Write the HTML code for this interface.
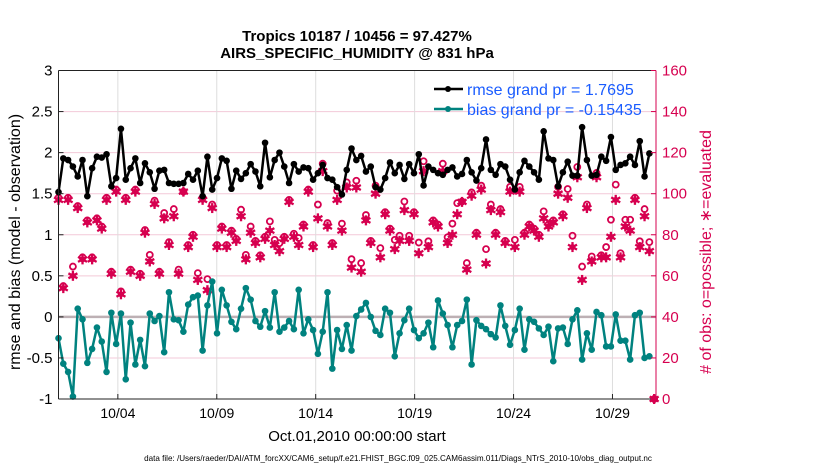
<!DOCTYPE html>
<html><head><meta charset="utf-8"><style>
body{margin:0;background:#fff;width:830px;height:470px;overflow:hidden}
svg{font-family:"Liberation Sans",sans-serif}
</style></head><body>
<svg id="chart" width="830" height="470">
<g id="grid"></g>
<g id="marks"></g>
<g id="axes"></g>
<text x="357" y="41" font-size="15" font-weight="bold" text-anchor="middle">Tropics 10187 / 10456 = 97.427%</text>
<text x="357" y="58" font-size="15" font-weight="bold" text-anchor="middle">AIRS_SPECIFIC_HUMIDITY @ 831 hPa</text>
<text transform="translate(20,242) rotate(-90)" font-size="16" text-anchor="middle">rmse and bias (model - observation)</text>
<text transform="translate(711,252) rotate(-90)" font-size="16" fill="#d6004f" text-anchor="middle"># of obs: o=possible; ∗=evaluated</text>
<text x="357" y="441" font-size="15" text-anchor="middle">Oct.01,2010 00:00:00 start</text>
<text x="398" y="461" font-size="8.1" text-anchor="middle">data file: /Users/raeder/DAI/ATM_forcXX/CAM6_setup/f.e21.FHIST_BGC.f09_025.CAM6assim.011/Diags_NTrS_2010-10/obs_diag_output.nc</text>
<g>
<g>
<line x1="434" y1="89" x2="463" y2="89" stroke="#000" stroke-width="2.5"/>
<circle cx="448" cy="89" r="3" fill="#000"/>
<text x="467" y="95" font-size="16" fill="#1a5cff">rmse grand pr = 1.7695</text></g>
<g>
<line x1="434" y1="109" x2="463" y2="109" stroke="#00827f" stroke-width="2.5"/>
<circle cx="448" cy="109" r="3" fill="#00827f"/>
<text x="467" y="115" font-size="16" fill="#1a5cff">bias grand pr = -0.15435</text></g>
</g>
</svg>
<script>
const rmse=[1.52,1.93,1.91,1.83,1.71,1.91,1.47,1.81,1.95,1.94,1.98,1.59,1.69,2.29,1.67,1.81,1.93,1.63,1.87,1.76,1.56,1.78,1.79,1.63,1.62,1.62,1.63,1.74,1.67,1.78,1.47,1.95,1.55,
1.69,1.93,1.90,1.56,1.78,1.68,1.75,1.86,1.77,1.59,2.12,1.70,1.91,2.00,1.83,1.63,1.86,1.77,1.82,1.81,1.67,1.75,1.85,1.69,1.67,1.58,1.49,1.79,2.05,1.91,1.96,
1.77,1.83,1.58,1.55,1.69,1.88,1.75,1.85,1.68,1.86,1.75,1.98,1.60,1.83,1.79,1.75,1.73,1.79,1.82,1.71,1.74,1.91,1.76,1.66,1.81,2.16,1.79,1.73,1.86,1.83,1.67,
1.55,1.76,1.90,1.83,1.76,1.67,2.26,1.93,1.91,1.59,1.76,1.89,1.72,1.72,2.31,1.91,1.72,1.73,1.95,1.90,2.19,1.79,1.85,1.87,1.95,1.85,2.14,1.71,1.99];
const bias=[-0.26,-0.57,-0.67,-0.97,0.10,-0.03,-0.56,-0.39,-0.13,-0.30,-0.67,0.05,-0.33,0.04,-0.76,-0.07,-0.58,-0.28,-0.60,0.04,-0.05,0.01,-0.43,0.30,-0.03,-0.04,-0.18,0.15,0.24,0.26,-0.41,0.14,0.43,
-0.2,0.33,0.14,-0.06,-0.15,0.10,0.35,0.21,-0.05,-0.12,0.07,-0.13,0.30,-0.18,-0.13,-0.05,-0.15,0.33,-0.20,-0.03,-0.16,-0.45,-0.18,0.30,-0.63,-0.16,-0.39,-0.10,-0.41,0.01,0.09,
0.17,0,-0.17,-0.22,0.10,0.05,-0.48,-0.20,-0.04,0.10,-0.16,-0.26,-0.20,-0.07,-0.37,0.20,0.04,-0.10,-0.37,-0.10,-0.05,0.21,-0.58,-0.04,-0.11,-0.15,-0.21,-0.25,0.14,-0.11,-0.34,
-0.16,0.10,-0.40,-0.03,-0.06,-0.14,-0.22,-0.12,-0.54,-0.14,-0.13,-0.33,-0.03,0.08,-0.52,-0.20,-0.40,0.06,0.02,-0.36,-0.36,0.03,-0.29,-0.29,-0.52,0.02,0.05,-0.50,-0.48];
const evaluated=[97,54,97,60,93,68,86,68,87,83,97,61,101,51,97,62,101,60,81,67,95,61,88,75,89,61,101,74,79,58,97,53,93,
74,83,74,81,77,89,68,81,76,69,78,82,75,72,78,96,79,75,84,101,74,88,111,84,75,97,82,103,64,103,62,
87,76,100,69,90,82,73,77,92,77,90,71,111,74,86,84,111,76,80,90,96,63,99,80,102,66,92,80,91,76,101,
74,101,80,84,82,79,88,84,86,100,89,98,74,108,58,93,67,108,69,69,79,97,69,84,82,97,74,89,72,0];
const possible=[98,55,98,64.5,94,69,87,69,88,84,98,62,102,52.4,98,63,102,61,82.3,70.2,96.6,62,90.6,76.4,92.5,63,101,75,80,61.3,98,58.4,94.7,
75,84,75,82,78,92.2,70.2,84,77,70,79,86.5,77.5,75.9,79,97,80.5,78.4,85,102,75,94.7,114.6,85.7,76,101.5,85.4,105.5,68.1,106.3,66.2,
89.6,77,103.9,73.5,91,83,77.5,79.5,96.2,79.5,91,76.2,115.8,76.8,87,85,114.6,78.8,85.4,95.4,96.2,66.2,100.6,81,103.9,73,94.7,81,92.5,77,103.3,
77.5,103.3,81,85,83,80,91.4,85,87,103.3,90,102.3,79.5,113,64.5,94.7,69.4,110.1,70,74,87.3,104.4,71,87.3,87.3,98,76.8,92.5,76.4,0];
const tickDays=[3,8,13,18,23,28];
const tickLabels=["10/04","10/09","10/14","10/19","10/24","10/29"];
const leftTicks=[-1,-0.5,0,0.5,1,1.5,2,2.5,3];
const rightTicks=[0,20,40,60,80,100,120,140,160];
const dtDays=0.2428;

const NS="http://www.w3.org/2000/svg";
const X0=58.5,X1=656,Y0=399,Y1=70.5,XMAX=30.2;
const xs=d=>X0+(X1-X0)*d/XMAX;
const yl=v=>Y0-(Y0-Y1)*(v+1)/4;
const yr=v=>Y0-(Y0-Y1)*v/160;
function mk(tag,attrs,parent){const e=document.createElementNS(NS,tag);for(const k in attrs)e.setAttribute(k,attrs[k]);parent.appendChild(e);return e;}
const grid=document.getElementById('grid'),marks=document.getElementById('marks'),axes=document.getElementById('axes');

rightTicks.forEach(t=>{const y=yr(t);const g=mk('line',{x1:X0,x2:X1,y1:y,y2:y,stroke:'#f3c9d8','stroke-width':1},grid);

});
tickDays.forEach((d,i)=>{const x=xs(d);const g=mk('line',{x1:x,x2:x,y1:Y1,y2:Y0,stroke:'#ddd','stroke-width':1},grid);


mk('line',{x1:x,x2:x,y1:Y0,y2:Y0-5,stroke:'#222'},axes);
const t=mk('text',{x:x,y:418,'font-size':14,'text-anchor':'middle'},axes);t.textContent=tickLabels[i];

});
const zl=mk('line',{x1:X0,x2:X1,y1:yl(0),y2:yl(0),stroke:'#bdb0b4','stroke-width':2.5},grid);



function star(x,y,p){const s=mk('g',{stroke:'#d6004f','stroke-width':2.3},p);
[[0,5],[4.5,2.5],[4.5,-2.5]].forEach(([a,b])=>mk('line',{x1:x-a,y1:y-b,x2:x+a,y2:y+b},s));
mk('circle',{cx:x,cy:y,r:3,fill:'#d6004f',stroke:'none'},s);return s;}
const mg=mk('g',{},marks);


possible.forEach((v,i)=>{const c=mk('circle',{cx:xs(i*dtDays),cy:yr(v),r:3,fill:'none',stroke:'#d6004f','stroke-width':1.8},mg);

});
evaluated.forEach((v,i)=>{const s=star(xs(i*dtDays),yr(v),mg);

});

function series(vals,color,name){const g=mk('g',{},marks);


mk('polyline',{points:vals.map((v,i)=>xs(i*dtDays)+','+yl(v)).join(' '),fill:'none',stroke:color,'stroke-width':2.5,'stroke-linejoin':'round'},g);
vals.forEach((v,i)=>{const c=mk('circle',{cx:xs(i*dtDays),cy:yl(v),r:3.3,fill:color},g);

});}
series(bias,'#00827f','bias-series');
series(rmse,'#000','rmse-series');

mk('line',{x1:X0,x2:X1,y1:Y1,y2:Y1,stroke:'#222'},axes);
mk('line',{x1:X0,x2:X1,y1:Y0,y2:Y0,stroke:'#222'},axes);
mk('line',{x1:X0,x2:X0,y1:Y1,y2:Y0,stroke:'#222'},axes);
mk('line',{x1:X1,x2:X1,y1:Y1,y2:Y0,stroke:'#d6004f'},axes);
leftTicks.forEach(t=>{const y=yl(t);mk('line',{x1:X0,x2:X0+5,y1:y,y2:y,stroke:'#222'},axes);
const l=mk('text',{x:X0-6,y:y+5,'font-size':15,'text-anchor':'end'},axes);l.textContent=String(t);

});
rightTicks.forEach(t=>{const y=yr(t);mk('line',{x1:X1,x2:X1-5,y1:y,y2:y,stroke:'#d6004f'},axes);
const l=mk('text',{x:X1+6,y:y+5,'font-size':15,fill:'#d6004f'},axes);l.textContent=String(t);

});
</script>
</body></html>
